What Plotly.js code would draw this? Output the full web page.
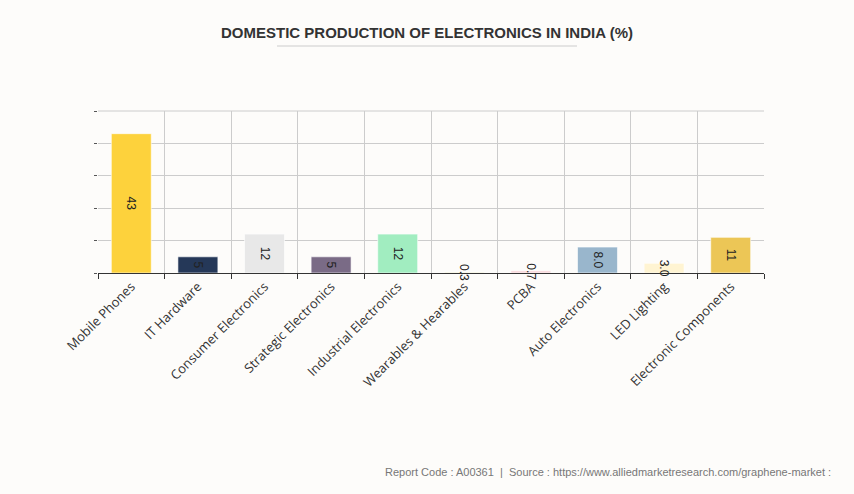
<!DOCTYPE html>
<html>
<head>
<meta charset="utf-8">
<script src="https://cdn.plot.ly/plotly-3.0.1.min.js"></script>
<style>html,body{margin:0;padding:0;background:#fdfcfa;}#chart{width:854px;height:494px;}</style>
</head>
<body>
<div id="chart"></div>
<script>
const categories = ["Mobile Phones", "IT Hardware", "Consumer Electronics", "Strategic Electronics", "Industrial Electronics", "Wearables & Hearables", "PCBA", "Auto Electronics", "LED Lighting", "Electronic Components"];
const values = [43, 5, 12, 5, 12, 0.3, 0.7, 8.0, 3.0, 11];
const labels = ["43", "5", "12", "5", "12", "0.3", "0.7", "8.0", "3.0", "11"];
const colors = ["#fdd23c", "#253858", "#e8e8e8", "#7a6b86", "#a1edc0", "#f3f1d6", "#f8d7da", "#99b6cc", "#fff4d2", "#ecc656"];

const trace = {
  type: 'bar',
  x: categories,
  y: values,
  text: labels,
  textposition: 'inside',
  insidetextanchor: 'middle',
  constraintext: 'none',
  textangle: 90,
  textfont: {family: 'Arial, Liberation Sans, sans-serif', size: 12, color: '#222'},
  marker: {color: colors, line: {color: 'rgba(255,255,255,0.6)', width: 1}},
  hoverinfo: 'none',
  cliponaxis: false
};

const layout = {
  width: 854, height: 494,
  paper_bgcolor: '#fdfcfa', plot_bgcolor: '#fdfcfa',
  margin: {l: 98, r: 90, t: 111, b: 221},
  bargap: 0.4,
  showlegend: false,
  title: {text: '<b>DOMESTIC PRODUCTION OF ELECTRONICS IN INDIA (%)</b>', x: 0.5, xanchor: 'center', y: 0.933, yanchor: 'middle',
    font: {family: 'Arial, Liberation Sans, sans-serif', size: 15, color: '#333'}},
  xaxis: {
    type: 'category',
    tickson: 'boundaries',
    showgrid: true, gridcolor: '#cccccc', gridwidth: 1,
    showline: true, linecolor: '#333', linewidth: 1,
    ticks: 'outside', ticklen: 5, tickcolor: '#333',
    tickangle: -45,
    tickfont: {family: 'Open Sans, sans-serif', size: 13, color: '#333'},
    mirror: false
  },
  yaxis: {
    range: [0, 50], dtick: 10,
    showgrid: true, gridcolor: '#cccccc', gridwidth: 1,
    zeroline: false, showline: false,
    ticks: 'outside', ticklen: 3, tickcolor: '#555',
    showticklabels: false
  },
  shapes: [
    {type: 'line', xref: 'paper', yref: 'paper', x0: 0, x1: 1, y0: 1, y1: 1, layer: 'below', line: {color: '#cccccc', width: 1}},
    {type: 'line', xref: 'paper', yref: 'paper', x0: (277-98)/666, x1: (577-98)/666, y0: (273-46)/162, y1: (273-46)/162, line: {color: '#cccccc', width: 1}}
  ],
  annotations: [
    {text: 'Report Code : A00361  |  Source : https://www.alliedmarketresearch.com/graphene-market :', xref: 'paper', yref: 'paper',
     x: (833-98)/666, y: (273-472)/162, xanchor: 'right', yanchor: 'middle', showarrow: false,
     font: {family: 'Arial, Liberation Sans, sans-serif', size: 11, color: '#777'}}
  ]
};

Plotly.newPlot('chart', [trace], layout, {displayModeBar: false, staticPlot: true});
</script>
</body>
</html>
